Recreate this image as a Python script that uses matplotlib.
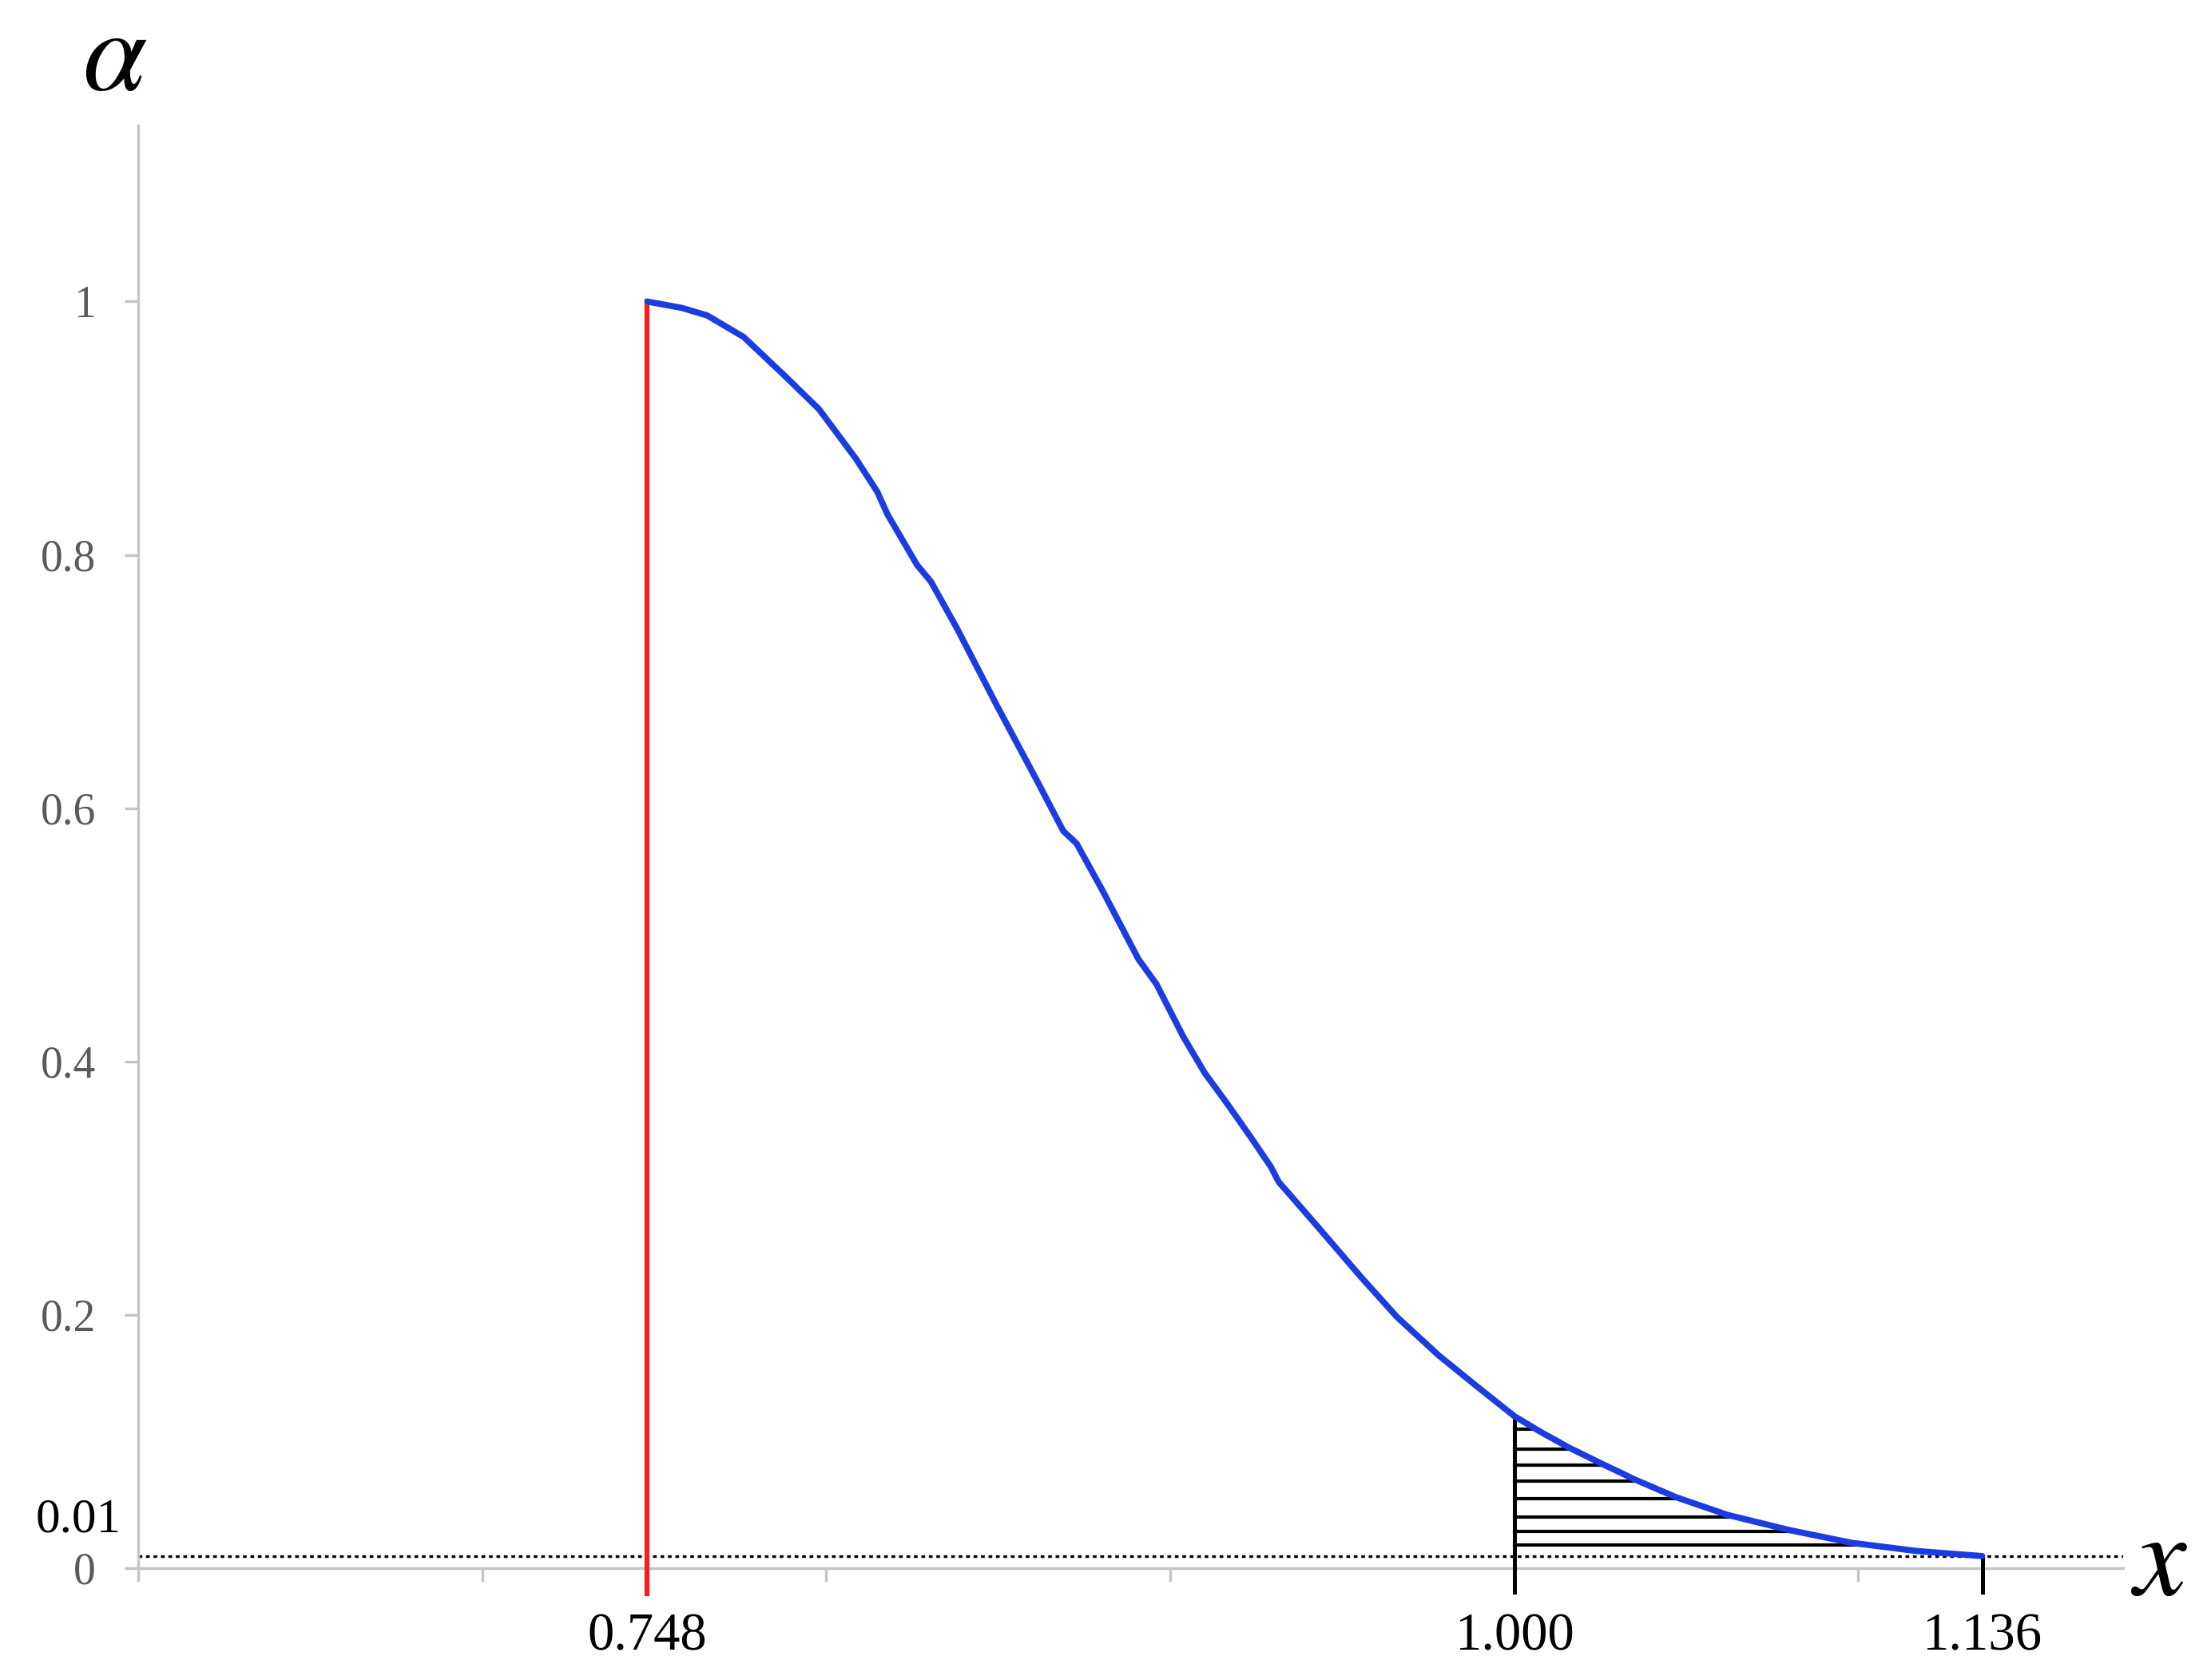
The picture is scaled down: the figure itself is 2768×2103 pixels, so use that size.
import numpy as np
import matplotlib
matplotlib.use("Agg")
import matplotlib.pyplot as plt

# curve
curve_x = [0.748, 0.758, 0.7654, 0.776, 0.7877, 0.7979, 0.8086, 0.8148, 0.8178,
           0.8264, 0.8304, 0.838, 0.8496, 0.8612, 0.8689, 0.8728, 0.8805, 0.8907,
           0.896, 0.9037, 0.910, 0.9162, 0.9232, 0.9292, 0.9315, 0.9424, 0.9557,
           0.966, 0.978, 0.9889, 1.000, 1.008, 1.016, 1.025, 1.035, 1.047,
           1.062, 1.080, 1.098, 1.117, 1.136]
curve_y = [1.000, 0.995, 0.989, 0.972, 0.942, 0.915, 0.876, 0.850, 0.832,
           0.792, 0.779, 0.742, 0.681, 0.622, 0.582, 0.572, 0.534, 0.481,
           0.461, 0.420, 0.391, 0.368, 0.341, 0.317, 0.305, 0.271, 0.229,
           0.198, 0.168, 0.144, 0.120, 0.107, 0.095, 0.083, 0.070, 0.056,
           0.042, 0.030, 0.020, 0.0135, 0.0095]

x_start = 0.748          # red line
x_mid = 1.000            # left edge of hatched area
x_end = 1.136            # where curve meets the 0.01 level
alpha_level = 0.0095     # dotted line, labelled 0.01
hatch_levels = [0.1098, 0.094, 0.0814, 0.0688, 0.0549, 0.0404, 0.029, 0.0183]

x_gray_ticks = [0.6, 0.7, 0.8, 0.9, 1.0, 1.1]
x_labels = ["0.748", "1.000", "1.136"]
y_ticks = [0, 0.2, 0.4, 0.6, 0.8, 1.0]
y_tick_labels = ["0", "0.2", "0.4", "0.6", "0.8", "1"]

plt.rcParams["font.family"] = ["Liberation Serif", "DejaVu Serif"]
plt.rcParams["mathtext.fontset"] = "stix"

fig = plt.figure(figsize=(13.84, 10.515), dpi=200)
ax = fig.add_axes([0.0625, 0.0666, 0.8978, 0.8587])

ax.set_xlim(0.6, 1.177)
ax.set_ylim(0, 1.139)

axis_gray = "#c4c4c4"
for side in ["top", "right"]:
    ax.spines[side].set_visible(False)
for side in ["left", "bottom"]:
    ax.spines[side].set_color(axis_gray)
    ax.spines[side].set_linewidth(1.2)

ax.set_xticks(x_gray_ticks)
ax.set_xticklabels([])
ax.set_yticks(y_ticks)
ax.set_yticklabels(y_tick_labels)
ax.tick_params(axis="both", direction="out", length=6.1, width=1.2, color=axis_gray)
ax.tick_params(axis="y", pad=13, labelsize=20, labelcolor="#5a5a5a")

# dotted significance level
ax.plot([0.6, 1.177], [alpha_level, alpha_level], color="black", lw=1.2,
        linestyle=(0, (1.4, 1.4)), zorder=2)

# hatched tail area: horizontal strokes from x=1 to the curve
cx = np.array(curve_x)
cy = np.array(curve_y)
for lev in hatch_levels:
    right = np.interp(lev, cy[::-1], cx[::-1])
    ax.plot([x_mid, right], [lev, lev], color="black", lw=1.5, zorder=3)

y_at_mid = np.interp(x_mid, cx, cy)
ax.plot([x_mid, x_mid], [y_at_mid, -0.019], color="black", lw=1.8,
        clip_on=False, zorder=3)
ax.plot([x_end, x_end], [alpha_level, -0.019], color="black", lw=1.8,
        clip_on=False, zorder=3)

# red start line
ax.plot([x_start, x_start], [curve_y[0], -0.020], color="#ff1a1a", lw=2.2,
        clip_on=False, zorder=4)

# the curve
ax.plot(cx, cy, color="#1a3ce0", lw=2.8, solid_capstyle="round",
        solid_joinstyle="round", zorder=5)

for xv, lab in zip([x_start, x_mid, x_end], x_labels):
    ax.text(xv, -0.054, lab, ha="center", va="center", fontsize=24,
            color="black", clip_on=False)

# 0.01 label sits just left of the axis, above the dotted line
ax.text(0.6 - 21 / 4310, 0.038, "0.01", ha="right", va="center", fontsize=22,
        color="black", clip_on=False)

fig.text(0.052, 0.963, r"$\alpha$", ha="center", va="center", fontsize=52)
fig.text(0.977, 0.0675, r"$x$", ha="center", va="center", fontsize=53)

fig.savefig("out.png", dpi=200, facecolor="white")
